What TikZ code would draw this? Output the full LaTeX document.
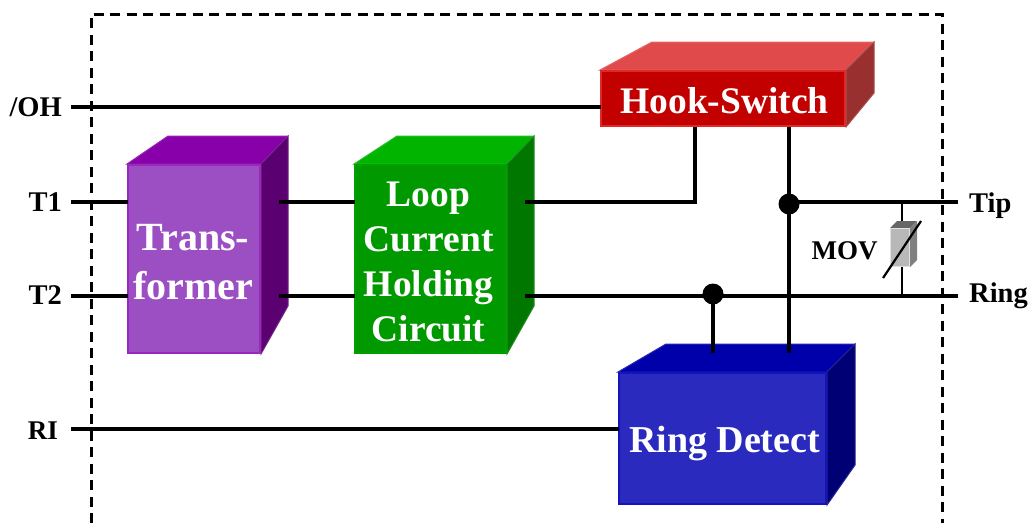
\documentclass[tikz,border=0pt]{standalone}
\usepackage{fontspec}
\setmainfont{Liberation Serif}
\usetikzlibrary{calc}
\definecolor{hookF}{HTML}{C20000}\definecolor{hookT}{HTML}{E04A4A}\definecolor{hookS}{HTML}{993030}\definecolor{hookE}{HTML}{E02828}
\definecolor{transF}{HTML}{9B4FC2}\definecolor{transT}{HTML}{8800AA}\definecolor{transS}{HTML}{5A0070}\definecolor{transE}{HTML}{9A28BC}
\definecolor{loopF}{HTML}{009A00}\definecolor{loopT}{HTML}{00B400}\definecolor{loopS}{HTML}{007800}\definecolor{loopE}{HTML}{00A000}
\definecolor{ringF}{HTML}{2A2ABE}\definecolor{ringT}{HTML}{0000AA}\definecolor{ringS}{HTML}{000075}\definecolor{ringE}{HTML}{1414BE}
\tikzset{
  wire/.style={draw=black,line width=4.4pt},
  thinwire/.style={draw=black,line width=2.2pt},
  border/.style={draw=black,line width=3pt,dash pattern=on 10pt off 6.5pt},
  boxtext/.style={text=white,font=\fontsize{37.5}{45}\selectfont\bfseries,align=center,inner sep=0pt},
  pinlabel/.style={text=black,font=\fontsize{28.5}{30}\selectfont\bfseries,inner sep=0pt},
  joint/.style={circle,fill=black,minimum size=21pt,inner sep=0pt}
}
% name, x1, y1, x2, y2, back-left x, back-right x, top y, side-bottom y
\newcommand{\solidbox}[9]{%
  \fill[#1T,draw=#1T!85!white,line width=1pt] (#2,#3) -- (#6,#8) -- (#7,#8) -- (#4,#3) -- cycle;
  \fill[#1S,draw=#1S!85!white,line width=1pt] (#4,#3) -- (#7,#8) -- (#7,#9) -- (#4,#5) -- cycle;
  \node[fill=#1F,draw=#1E,line width=2pt,inner sep=0pt,outer sep=0pt,
        minimum width={(#4-#2)*1pt-2pt},minimum height={(#5-#3)*1pt-2pt}] (#1)
        at ({(#2+#4)/2},{(#3+#5)/2}) {};
}
\begin{document}
\begin{tikzpicture}[x=1pt,y=-1pt]
\useasboundingbox (0,0) rectangle (1030,523);
% outer dashed frame
\coordinate (fa) at (91,523); \coordinate (fb) at (91,14);
\coordinate (fc) at (942,14); \coordinate (fd) at (942,523);
\draw[border] (fa) -- (fb) -- (fc) -- (fd);
% boxes
\solidbox{hook}{600}{70}{846}{127}{652}{874}{42}{93}
\solidbox{trans}{127}{164}{261}{354}{168}{288}{136}{306}
\solidbox{loop}{354}{164}{507}{354}{397}{534}{136}{306}
\solidbox{ring}{618}{372}{827}{505}{666}{855}{344}{465}
% wire ends
\coordinate (ohs) at (71,107);
\coordinate (t1s) at (71,202);
\coordinate (t2s) at (71,296);
\coordinate (ris) at (71,429);
\coordinate (tr1) at (279,202);
\coordinate (tr2) at (279,296);
\coordinate (lo1) at (525,202);
\coordinate (lo2) at (525,296);
\coordinate (tipe) at (958,202);
\coordinate (ringe) at (958,296);
\node[joint] (jt) at (789,204) {};
\node[joint] (jr) at (713,294) {};
\coordinate (hk1) at (695,127);
\coordinate (hk2) at (789,127);
\coordinate (rd1) at (713,353);
\coordinate (rd2) at (789,353);
% wires
\draw[wire] (ohs) -- (ohs -| hook.west);
\draw[wire] (t1s) -- (t1s -| trans.west);
\draw[wire] (t2s) -- (t2s -| trans.west);
\draw[wire] (tr1) -- (tr1 -| loop.west);
\draw[wire] (tr2) -- (tr2 -| loop.west);
\draw[wire] (lo1) -| (hk1);
\draw[wire] (lo2) -- (ringe);
\draw[wire] (jt.center |- tipe) -- (tipe);
\draw[wire] (hk2) -- (rd2);
\draw[wire] (jr.center) -- (rd1);
\draw[wire] (ris) -- (ris -| ring.west);
% box texts
\node[boxtext] (thook) at (724.5,100.5) {Hook-Switch};
\node[boxtext,font=\fontsize{40}{49}\selectfont\bfseries] (ttrans) at (193,262.5) {Trans-\\former};
\node[boxtext] (tloop) at (428.5,261.5) {Loop\\Current\\Holding\\Circuit};
\node[boxtext,font=\fontsize{38}{45}\selectfont\bfseries] (tring) at (724.5,443) {Ring Detect};
% pin labels
\node[pinlabel,anchor=east] (oh) at (62,107) {/OH};
\node[pinlabel,anchor=east] (t1) at (62,202) {T1};
\node[pinlabel,anchor=east] (t2) at (62,295) {T2};
\node[pinlabel,font=\fontsize{27}{30}\selectfont\bfseries,anchor=east] (ri) at (58,431) {RI};
\node[pinlabel,anchor=west] (tip) at (969,206) {Tip};
\node[pinlabel,anchor=west] (ringl) at (969,296) {Ring};
\node[pinlabel,font=\fontsize{27}{30}\selectfont\bfseries] (movl) at (844.5,251) {MOV};
% MOV
\coordinate (mt) at (902,202);
\coordinate (mb) at (902,296);
\draw[thinwire] (mt) -- (mb);
\fill[black!60] (890,228) -- (897,221) -- (917,221) -- (910,228) -- cycle;
\fill[black!50] (910,228) -- (917,221) -- (917,260) -- (910,267) -- cycle;
\node[fill=black!28,draw=black!12,line width=1pt,inner sep=0pt,outer sep=0pt,minimum width=19pt,minimum height=38pt] (mov) at (900,247.5) {};
\coordinate (dg1) at (883,278);
\coordinate (dg2) at (921,221);
\draw[black,line width=2.2pt] (dg1) -- (dg2);
\end{tikzpicture}
\end{document}
